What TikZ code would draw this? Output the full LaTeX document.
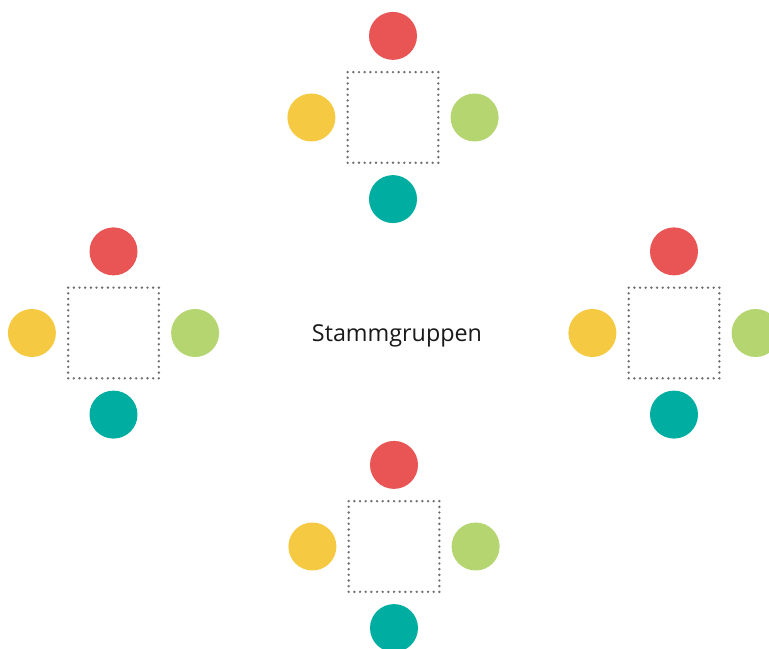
\documentclass[tikz,border=0pt]{standalone}
\usepackage{fontspec}
\setmainfont{Open Sans}
\usepackage{tikz}
\usetikzlibrary{positioning}
\definecolor{rot}{HTML}{E95455}
\definecolor{gelb}{HTML}{F5CA42}
\definecolor{gruen}{HTML}{B5D571}
\definecolor{petrol}{HTML}{00ADA1}
\definecolor{grau}{HTML}{6E6E6E}

\tikzset{
    tisch/.style={draw=grau, line width=2pt, dash pattern=on 0pt off 4.25pt, line cap=round, minimum size=68pt, inner sep=0pt},
    person/.style={circle, minimum size=36pt, inner sep=0pt},
}

\begin{document}
\begin{tikzpicture}[x=0.75pt, y=-0.75pt, node distance=8pt]
    \clip (0,0) rectangle (769,649);
    \foreach \name/\x/\y in {oben/393/117.5, links/113.5/333, rechts/674/333, unten/394/546.5} {
        \node[tisch] (\name) at (\x,\y) {};
        \node[person, fill=rot, above=of \name] (\name-rot) {};
        \node[person, fill=petrol, below=of \name] (\name-petrol) {};
        \node[person, fill=gelb, left=of \name] (\name-gelb) {};
        \node[person, fill=gruen, right=of \name] (\name-gruen) {};
    }
    \node at (397,341.5) [anchor=base, text=black!90, font=\fontsize{17.5}{21}\selectfont] (titel) {Stammgruppen};
\end{tikzpicture}
\end{document}
